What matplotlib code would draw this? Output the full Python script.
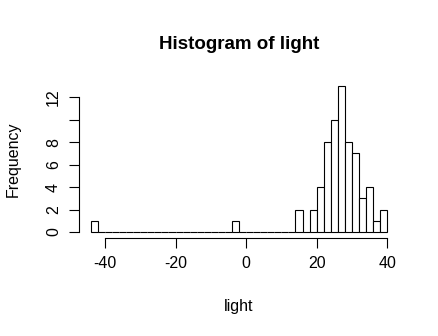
import matplotlib
matplotlib.use("Agg")
import matplotlib.pyplot as plt

# bin edges: width 2 from -44 to 40
binStart = -44
binWidth = 2
counts = [1,
          0, 0, 0, 0, 0, 0, 0, 0, 0, 0, 0, 0, 0, 0, 0, 0, 0, 0, 0,
          1,
          0, 0, 0, 0, 0, 0, 0, 0,
          2, 0, 2, 4, 8, 10, 13, 8, 7, 3, 4, 1, 2]
xTicks = [-40, -20, 0, 20, 40]
yTicks = [0, 2, 4, 6, 8, 10, 12]
yTickLabels = ["0", "2", "4", "6", "8", "", "12"]

plt.rcParams['font.family'] = ['Liberation Sans', 'DejaVu Sans']

fig = plt.figure(figsize=(4.39, 3.36), dpi=100)
ax = fig.add_axes([0.18, 0.292, 0.909 - 0.18, 0.762 - 0.292])

lefts = [binStart + i * binWidth for i in range(len(counts))]
ax.bar(lefts, counts, width=binWidth, align='edge', color='white',
       edgecolor='black', linewidth=0.8)

xmin, xmax = binStart, binStart + binWidth * len(counts)
xr = xmax - xmin
ax.set_xlim(xmin - 0.04 * xr, xmax + 0.04 * xr)
ymax = max(counts)
ax.set_ylim(-0.04 * ymax, ymax * 1.04)

for s in ['top', 'right']:
    ax.spines[s].set_visible(False)
ax.spines['left'].set_bounds(0, 12)
ax.spines['bottom'].set_bounds(-40, 40)
ax.spines['left'].set_linewidth(0.8)
ax.spines['bottom'].set_linewidth(0.8)

ax.set_xticks(xTicks)
ax.set_xticklabels([str(t) for t in xTicks])
ax.set_yticks(yTicks)
ax.set_yticklabels(yTickLabels, rotation=90, va='center')
ax.tick_params(direction='out', length=7, width=0.8, labelsize=11.5, pad=6)

ax.set_title("Histogram of light", fontsize=13.5, fontweight='bold', pad=22)
ax.set_xlabel("light", fontsize=11.5, labelpad=20)
ax.set_ylabel("Frequency", fontsize=11.5, labelpad=18)

fig.savefig("out.png", dpi=100)
